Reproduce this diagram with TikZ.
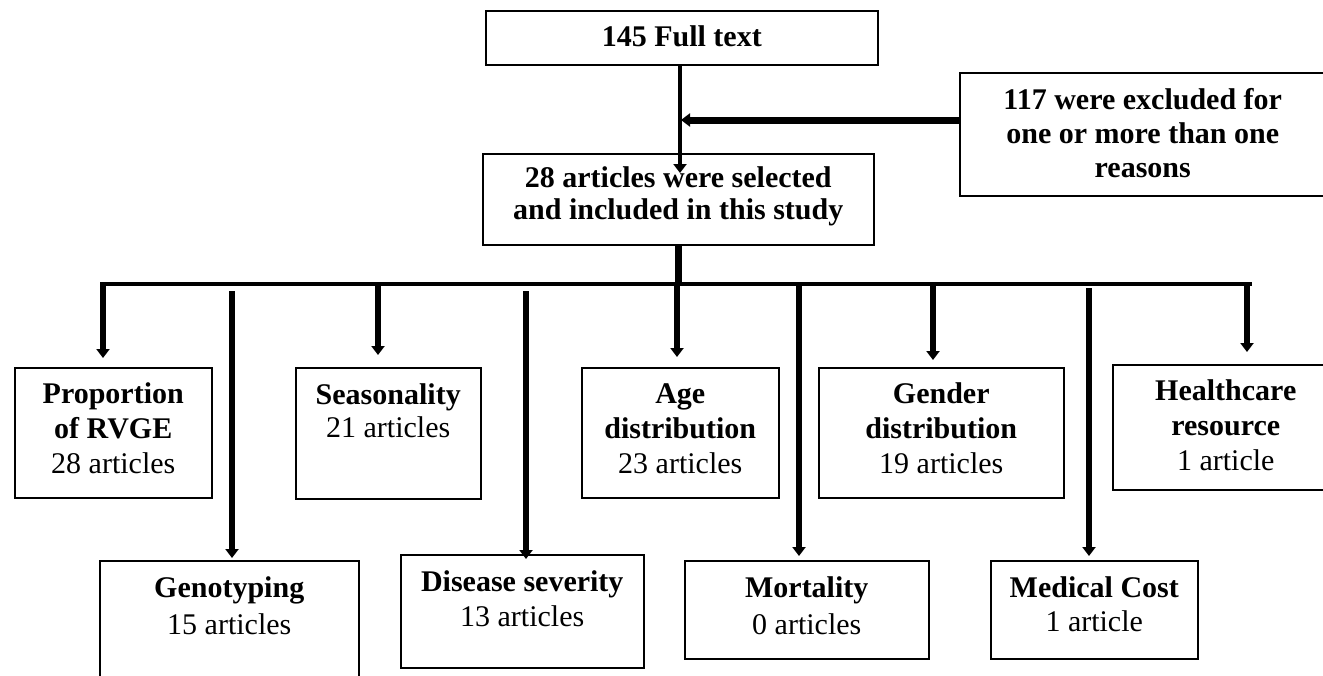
\documentclass[tikz,border=0pt]{standalone}
\usepackage{fontspec}
\setmainfont{Liberation Serif}
\usetikzlibrary{arrows.meta}
\begin{document}
\begin{tikzpicture}[x=1pt,y=-1pt,
  box/.style={draw=black, line width=1.5pt, rectangle, inner sep=0pt, anchor=north west},
  txt/.style={anchor=north, inner sep=0pt, align=center, font=\fontsize{30}{35}\selectfont},
  tip/.style={-{Triangle[width=13pt,length=9pt]}},
  thinarrow/.style={tip, line width=4pt},
  thickarrow/.style={tip, line width=7pt},
  droparrow/.style={tip, line width=6pt},
  barline/.style={line width=4pt, line cap=rect}
]
\useasboundingbox (0,0) rectangle (1323,675);
\clip (0,0) rectangle (1323,675);

% boxes
\node[box, minimum width=392pt, minimum height=54pt] (full) at (485,10) {};
\node[box, minimum width=391pt, minimum height=91pt] (sel) at (482,153) {};
\node[box, minimum width=366pt, minimum height=123pt] (excl) at (959,72) {};
\node[box, minimum width=197pt, minimum height=130pt] (prop) at (14,367) {};
\node[box, minimum width=185pt, minimum height=131pt] (seas) at (295,367) {};
\node[box, minimum width=197pt, minimum height=130pt] (age) at (581,367) {};
\node[box, minimum width=245pt, minimum height=130pt] (gend) at (818,367) {};
\node[box, minimum width=226pt, minimum height=125pt] (hlth) at (1112,364) {};
\node[box, minimum width=259pt, minimum height=140pt] (geno) at (99,560) {};
\node[box, minimum width=243pt, minimum height=113pt] (dis) at (400,554) {};
\node[box, minimum width=244pt, minimum height=98pt] (mort) at (684,560) {};
\node[box, minimum width=207pt, minimum height=98pt] (med) at (990,560) {};

% texts
\node[txt, font=\fontsize{30}{35}\selectfont\bfseries] (fullT) at ([yshift=-12pt]full.north) {\strut 145 Full text};
\node[txt, font=\fontsize{30}{32}\selectfont\bfseries] (selT) at ([yshift=-12pt]sel.north) {\strut 28 articles were selected\\and included in this study};
\node[txt, font=\fontsize{30}{34}\selectfont\bfseries] (exclT) at ([yshift=-13pt]excl.north) {\strut 117 were excluded for\\one or more than one\\reasons};
\node[txt] (propT) at ([yshift=-12pt]prop.north) {\strut\textbf{Proportion}\\\textbf{of RVGE}\\28 articles};
\node[txt, font=\fontsize{30}{33}\selectfont] (seasT) at ([yshift=-14pt]seas.north) {\strut\textbf{Seasonality}\\21 articles};
\node[txt] (ageT) at ([yshift=-12pt]age.north) {\strut\textbf{Age}\\\textbf{distribution}\\23 articles};
\node[txt] (gendT) at ([yshift=-12pt]gend.north) {\strut\textbf{Gender}\\\textbf{distribution}\\19 articles};
\node[txt] (hlthT) at ([yshift=-12pt]hlth.north) {\strut\textbf{Healthcare}\\\textbf{resource}\\1 article};
\node[txt, font=\fontsize{30}{37}\selectfont] (genoT) at ([yshift=-11pt]geno.north) {\strut\textbf{Genotyping}\\15 articles};
\node[txt] (disT) at ([yshift=-13pt]dis.north) {\strut\textbf{Disease severity}\\13 articles};
\node[txt, font=\fontsize{30}{37}\selectfont] (mortT) at ([yshift=-11pt]mort.north) {\strut\textbf{Mortality}\\0 articles};
\node[txt, font=\fontsize{30}{34}\selectfont] (medT) at ([yshift=-13pt]med.north) {\strut\textbf{Medical Cost}\\1 article};

% top connectors
\coordinate (fullout) at (680,64);
\coordinate (seltip) at (680,173);
\draw[thinarrow] (fullout) -- (seltip);
\coordinate (exy) at (0,120);
\coordinate (exctip) at (681,120);
\draw[thickarrow] (excl.west |- exy) -- (exctip);

% bar
\coordinate (barL) at (103,284);
\coordinate (barR) at (1250,284);
\draw[barline] (barL) -- (barR);
\draw[line width=7pt] (sel.south) -- (sel.south |- barL);

% drops to upper row
\coordinate (d1) at (103,282);
\coordinate (d2) at (378,286);
\coordinate (d3) at (677,282);
\coordinate (d4) at (933,286);
\coordinate (d5) at (1247,286);
\draw[droparrow, shorten >=9pt] (d1) -- (d1 |- prop.north);
\draw[droparrow, shorten >=12pt] (d2) -- (d2 |- seas.north);
\draw[droparrow, shorten >=10pt] (d3) -- (d3 |- age.north);
\draw[droparrow, shorten >=7pt] (d4) -- (d4 |- gend.north);
\draw[droparrow, shorten >=12pt] (d5) -- (d5 |- hlth.north);

% drops to lower row
\coordinate (e1) at (232,291);
\coordinate (e2) at (526,291);
\coordinate (e3) at (799,284);
\coordinate (e4) at (1089,288);
\coordinate (e2tip) at (526,559);
\draw[droparrow, shorten >=2pt] (e1) -- (e1 |- geno.north);
\draw[droparrow] (e2) -- (e2tip);
\draw[droparrow, shorten >=4pt] (e3) -- (e3 |- mort.north);
\draw[droparrow, shorten >=4pt] (e4) -- (e4 |- med.north);
\end{tikzpicture}
\end{document}
